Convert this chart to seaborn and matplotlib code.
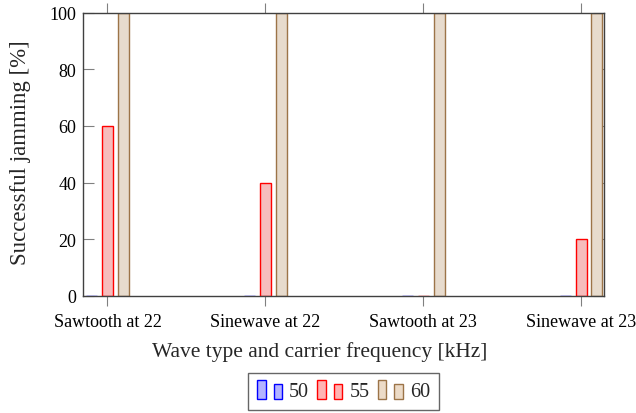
import matplotlib
matplotlib.use('Agg')
import matplotlib.pyplot as plt
import seaborn as sns
import pandas as pd
from matplotlib.patches import Rectangle
from matplotlib.legend_handler import HandlerBase

# Data
categories = ['Sawtooth at 22', 'Sinewave at 22', 'Sawtooth at 23', 'Sinewave at 23']
freqs = ['50', '55', '60']
jam_50 = [0, 0, 0, 0]
jam_55 = [60, 40, 0, 20]
jam_60 = [100, 100, 100, 100]

rows = []
for f, vals in zip(freqs, [jam_50, jam_55, jam_60]):
    for c, v in zip(categories, vals):
        rows.append({'wave': c, 'freq': f, 'value': v})
df = pd.DataFrame(rows)

fills = ['#b3b3ff', '#ffb3b3', '#ecdbc8']
edges = ['#0000ff', '#ff0000', '#9c7448']


# pgfplots-like legend glyph: two small bars
class TwoBars(HandlerBase):
    def create_artists(self, legend, orig_handle, xdescent, ydescent,
                       width, height, fontsize, trans):
        fc = orig_handle.get_facecolor()
        ec = orig_handle.get_edgecolor()
        w = width * 0.34
        r1 = Rectangle((-xdescent, -ydescent - 0.15 * height), w, height * 1.25,
                       facecolor=fc, edgecolor=ec, linewidth=1.0, transform=trans)
        r2 = Rectangle((-xdescent + width - w, -ydescent - 0.15 * height), w, height * 1.0,
                       facecolor=fc, edgecolor=ec, linewidth=1.0, transform=trans)
        return [r1, r2]


sns.set_style('white')
plt.rcParams['font.family'] = ['Liberation Serif', 'DejaVu Serif']

fig = plt.figure(figsize=(6.36, 4.14), dpi=100)
ax = fig.add_axes([0.131, 0.283, 0.819, 0.684])

sns.barplot(data=df, x='wave', y='value', hue='freq', palette=fills,
            width=0.3, gap=0.3, linewidth=1.0, ax=ax, legend=False)

# edge colors per hue
for cont, ec in zip(ax.containers, edges):
    for bar in cont:
        bar.set_edgecolor(ec)

ax.set_xlim(-0.153, 3.146)
ax.set_ylim(0, 100)
ax.set_yticks([0, 20, 40, 60, 80, 100])
ax.set_xlabel('Wave type and carrier frequency [kHz]', fontsize=15.5)
ax.set_ylabel('Successful jamming [%]', fontsize=16.5)
ax.xaxis.set_label_coords(0.454, -0.16)
ax.yaxis.set_label_coords(-0.1, 0.51)
ax.tick_params(axis='both', labelsize=13, colors='#808080', labelcolor='black')
ax.tick_params(axis='y', direction='in', length=8, pad=5, left=True, right=True)
ax.tick_params(axis='x', direction='out', length=7, pad=5, bottom=True, top=True)
for s in ax.spines.values():
    s.set_color('#404040')
    s.set_linewidth(1.0)

handles = [Rectangle((0, 0), 1, 1, facecolor=fc, edgecolor=ec)
           for fc, ec in zip(fills, edges)]
fig.legend(handles, freqs, loc='center', bbox_to_anchor=(0.54, 0.052), ncol=3,
           handler_map={Rectangle: TwoBars()},
           handlelength=1.25, handleheight=0.8, handletextpad=0.35, columnspacing=0.4,
           fontsize=14.5, frameon=True, fancybox=False, edgecolor='#404040',
           borderpad=0.45, borderaxespad=0)

fig.savefig('out.png', dpi=100)
